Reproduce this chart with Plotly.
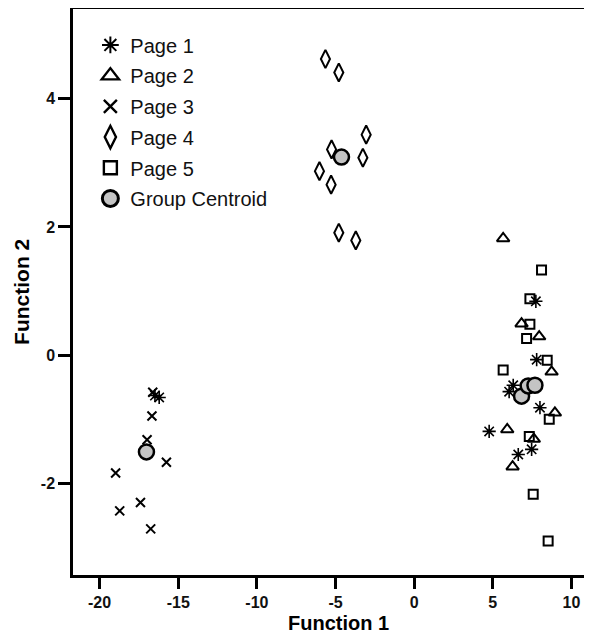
import plotly.graph_objects as go

# ---- data ----
page1_x = [-16.48, -16.21, 7.74, 7.79, 6.30, 6.04, 8.00, 4.77, 7.47, 6.62]
page1_y = [-0.63, -0.66, 0.84, -0.07, -0.47, -0.57, -0.82, -1.19, -1.47, -1.55]

page2_x = [5.66, 6.83, 7.95, 8.74, 8.95, 5.92, 7.61, 6.26]
page2_y = [1.82, 0.49, 0.29, -0.26, -0.90, -1.16, -1.31, -1.74]

page3_x = [-16.62, -16.67, -16.98, -15.75, -18.98, -17.40, -18.72, -16.75]
page3_y = [-0.58, -0.95, -1.32, -1.67, -1.84, -2.30, -2.43, -2.71]

page4_x = [-5.64, -4.79, -3.05, -3.26, -6.02, -5.28, -4.79, -3.71, -5.25]
page4_y = [4.62, 4.41, 3.44, 3.08, 2.87, 2.66, 1.91, 1.79, 3.21]

page5_x = [8.10, 7.36, 7.36, 7.15, 8.46, 5.66, 8.59, 7.32, 7.57, 8.52]
page5_y = [1.33, 0.88, 0.48, 0.26, -0.08, -0.23, -1.00, -1.27, -2.17, -2.90]

centroid_x = [6.83, 7.25, -17.02, -4.62, 7.68]
centroid_y = [-0.64, -0.48, -1.51, 3.09, -0.47]

x_ticks = [-20, -15, -10, -5, 0, 5, 10]
x_tick_labels = ["-20", "-15", "-10", "-5", "0", "5", "10"]
y_ticks = [-2, 0, 2, 4]
y_tick_labels = ["-2", "0", "2", "4"]

x_title = "Function 1"
y_title = "Function 2"

FONT = "Liberation Sans, Arial, sans-serif"
BLACK = "#000000"

fig = go.Figure()

# (name, x, y, symbol, plot size, legend size, line width)
series = [
    ("Page 1", page1_x, page1_y, "asterisk-open", 11, 14, 1.6),
    ("Page 2", page2_x, page2_y, "triangle-up-open", 11, 15, 2),
    ("Page 3", page3_x, page3_y, "x-thin-open", 9, 13, 2),
    ("Page 4", page4_x, page4_y, "diamond-tall-open", 13, 16, 2),
    ("Page 5", page5_x, page5_y, "square-open", 9, 13, 2),
]
for i, (name, xs, ys, sym, sz, lsz, lw) in enumerate(series):
    fig.add_trace(go.Scatter(
        x=xs, y=ys, mode="markers", name=name, showlegend=False,
        marker=dict(symbol=sym, size=sz, color=BLACK,
                    line=dict(color=BLACK, width=lw)),
    ))

fig.add_trace(go.Scatter(
    x=centroid_x, y=centroid_y, mode="markers", name="Group Centroid",
    showlegend=False,
    marker=dict(symbol="circle", size=15, color="#c4c4c4",
                line=dict(color=BLACK, width=2.5)),
))

# legend-only entries (no data marks), with larger key symbols
for i, (name, xs, ys, sym, sz, lsz, lw) in enumerate(series):
    fig.add_trace(go.Scatter(
        x=[None], y=[None], mode="markers", name=name, legendgroup=f"g{i}",
        marker=dict(symbol=sym, size=lsz, color=BLACK,
                    line=dict(color=BLACK, width=lw + 0.4)),
    ))
fig.add_trace(go.Scatter(
    x=[None], y=[None], mode="markers", name="Group Centroid",
    legendgroup="g5",
    marker=dict(symbol="circle", size=16, color="#c4c4c4",
                line=dict(color=BLACK, width=3)),
))

fig.update_layout(
    width=576, height=627,
    margin=dict(l=65, r=0, t=1, b=59.5, pad=0),
    paper_bgcolor="white", plot_bgcolor="white",
    font=dict(family=FONT, color=BLACK),
    showlegend=True,
    legend=dict(
        x=0.034, y=0.971, xanchor="left", yanchor="top",
        bgcolor="rgba(0,0,0,0)", borderwidth=0,
        font=dict(family=FONT, size=20, color="#111111"),
        traceorder="grouped", tracegroupgap=1.7,
        itemsizing="trace",
    ),
    annotations=[
        dict(text=f"<b>{x_title}</b>", xref="paper", yref="paper",
             x=0.519, y=-0.084, xanchor="center", yanchor="middle",
             showarrow=False, font=dict(family=FONT, size=20, color=BLACK)),
        dict(text=f"<b>{y_title}</b>", xref="paper", yref="paper",
             x=-0.102, y=0.5, xanchor="center", yanchor="middle",
             textangle=-90, showarrow=False,
             font=dict(family=FONT, size=21, color=BLACK)),
    ],
)

fig.update_xaxes(
    range=[-21.69, 10.80], tickvals=x_ticks, ticktext=x_tick_labels,
    automargin=False,
    showline=True, linecolor=BLACK, linewidth=2.5, mirror=True,
    ticks="outside", ticklen=11, tickwidth=2.5, tickcolor=BLACK,
    showgrid=False, zeroline=False,
    tickfont=dict(family=FONT, size=16, color="#111111", weight="bold"),
)
fig.update_yaxes(
    range=[-3.43, 5.40], tickvals=y_ticks, ticktext=y_tick_labels,
    automargin=False,
    showline=True, linecolor=BLACK, linewidth=2.5, mirror=False,
    ticks="outside", ticklen=12, tickwidth=2.5, tickcolor=BLACK,
    showgrid=False, zeroline=False,
    tickfont=dict(family=FONT, size=16, color="#111111", weight="bold"),
)

fig.write_html("out.html")
